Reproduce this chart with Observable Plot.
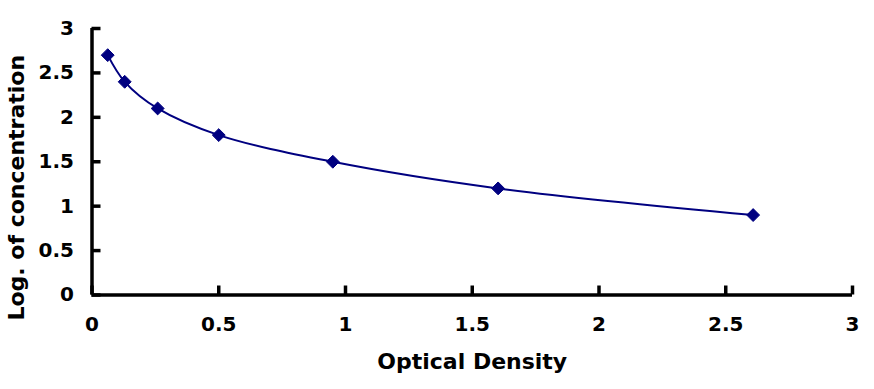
<!DOCTYPE html>
<html>
<head>
<meta charset="utf-8">
<script src="https://cdn.jsdelivr.net/npm/d3@7"></script>
<script src="https://cdn.jsdelivr.net/npm/@observablehq/plot@0.6"></script>
<style>
  html, body { margin: 0; padding: 0; background: #fff; }
  #chart svg { display: block; }
</style>
</head>
<body>
<div id="chart"></div>
<script>
const opticalDensity = [0.062, 0.129, 0.259, 0.500, 0.950, 1.602, 2.608];
const logConcentration = [2.7, 2.4, 2.1, 1.8, 1.5, 1.2, 0.9];
const xTicks = [0, 0.5, 1, 1.5, 2, 2.5, 3];
const yTicks = [0, 0.5, 1, 1.5, 2, 2.5, 3];
const xTitle = "Optical Density";
const yTitle = "Log. of concentration";

const data = opticalDensity.map((x, i) => ({x, y: logConcentration[i]}));
const font = "'DejaVu Sans', sans-serif";
const navy = "#000080";

const chart = Plot.plot({
  width: 874,
  height: 389,
  marginLeft: 91.5,
  marginRight: 22,
  marginTop: 28,
  marginBottom: 94.5,
  style: {fontFamily: font, fontWeight: "bold", color: "#000", background: "#fff"},
  x: {domain: [0, 3]},
  y: {domain: [0, 3]},
  marks: [
    Plot.ruleY([0], {stroke: "#000", strokeWidth: 3.5}),
    Plot.ruleX([0], {stroke: "#000", strokeWidth: 3.5}),
    Plot.axisX({ticks: xTicks, tickSize: -9, strokeWidth: 3.5, tickPadding: 31, fontSize: 20, fontWeight: "bold", label: null, tickFormat: d => String(d)}),
    Plot.axisY({ticks: yTicks, tickSize: -9, strokeWidth: 3.5, tickPadding: 27, fontSize: 20, fontWeight: "bold", label: null, tickFormat: d => String(d)}),
    Plot.line(data, {x: "x", y: "y", stroke: navy, strokeWidth: 2, curve: "catmull-rom"}),
    Plot.dot(data, {x: "x", y: "y", symbol: "diamond2", r: 5.8, fill: navy, stroke: navy, strokeWidth: 1}),
    Plot.text([xTitle], {frameAnchor: "bottom", dy: 67, fontSize: 22, fontWeight: "bold", fill: "#000", lineAnchor: "middle"}),
    Plot.text([yTitle], {frameAnchor: "left", textAnchor: "middle", rotate: -90, dx: -75, dy: 26, fontSize: 22, fontWeight: "bold", fill: "#000", lineAnchor: "middle"})
  ]
});
document.getElementById("chart").appendChild(chart);
</script>
</body>
</html>
